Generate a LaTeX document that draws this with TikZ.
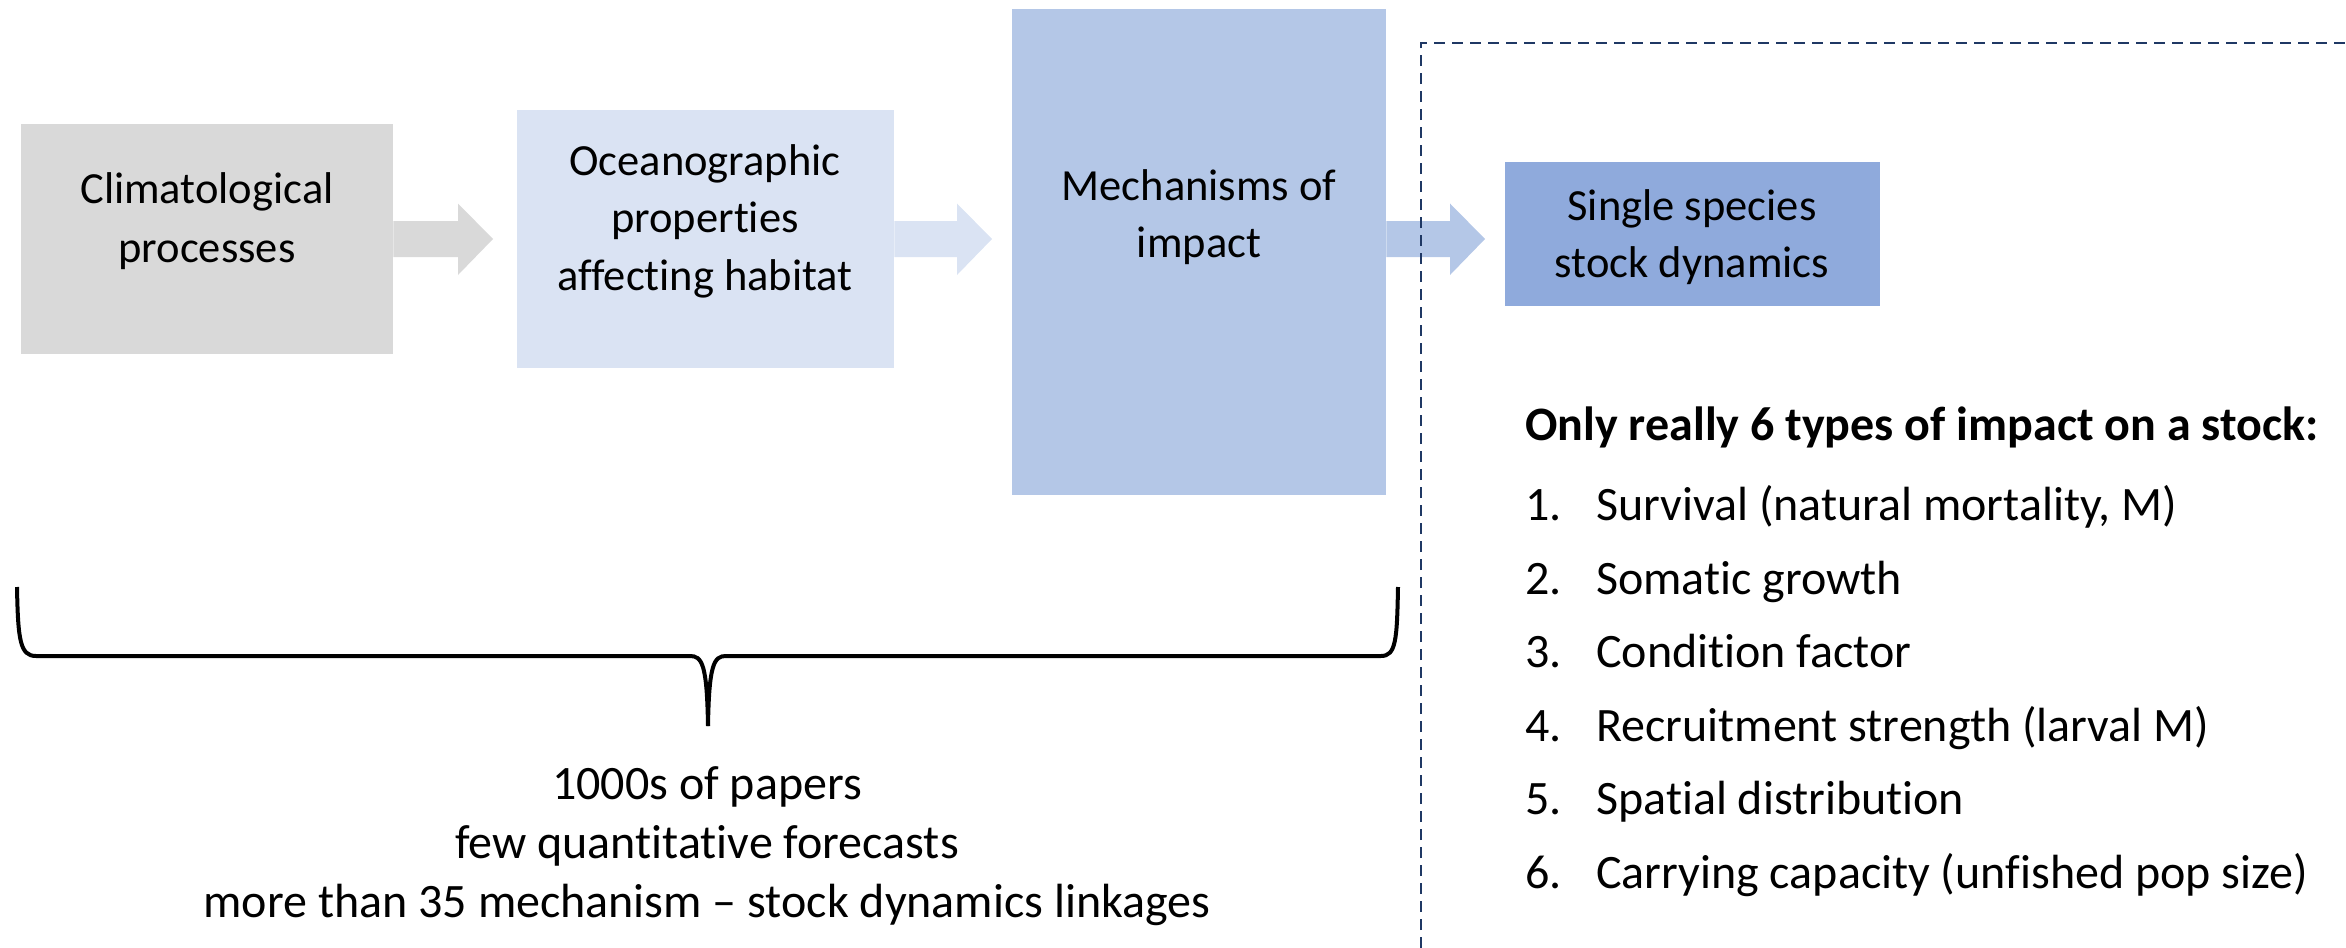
\documentclass[tikz,border=0pt]{standalone}
\usepackage{fontspec}
\setmainfont{Carlito}[Ligatures=TeX, RawFeature={-liga;-clig;-calt;-dlig}]
\usetikzlibrary{calc}
\definecolor{cgray}{HTML}{D9D9D9}
\definecolor{clight}{HTML}{DAE3F3}
\definecolor{cmid}{HTML}{B4C7E7}
\definecolor{cdark}{HTML}{8FAADC}
\definecolor{cnavy}{HTML}{1F3864}
\newcommand{\stk}[2]{\vtop{\baselineskip=#1pt\halign{\hfil##\hfil\cr#2\crcr}}}
\newcommand{\blockarrow}[4]{%
  \fill[#3] let \p1=(#1.east), \p2=(#2.west) in
    (\x1,-221pt) -- (\x2-#4pt-35pt,-221pt) -- (\x2-#4pt-35pt,-203.5pt)
    -- (\x2-#4pt,-239pt) -- (\x2-#4pt-35pt,-275pt) -- (\x2-#4pt-35pt,-257pt)
    -- (\x1,-257pt) -- cycle;}
\begin{document}
\begin{tikzpicture}[x=1pt,y=-1pt,
  box/.style={inner sep=0pt, anchor=north west},
  boxtext/.style={inner sep=0pt, anchor=base, font=\fontsize{44.5}{57.5}\selectfont},
  listtext/.style={inner sep=0pt, anchor=base west, font=\fontsize{48}{58}\selectfont},
  bracestyle/.style={line width=4pt},
  dashline/.style={cnavy, line width=2.5pt, dash pattern=on 11pt off 7pt}]
\useasboundingbox (0,0) rectangle (2346,948);

% boxes
\node[box, fill=cgray,  minimum width=372pt, minimum height=230pt] (clim) at (21,124) {};
\node[box, fill=clight, minimum width=377pt, minimum height=258pt] (ocean) at (517,110) {};
\node[box, fill=cmid,   minimum width=374pt, minimum height=486pt] (mech) at (1012,9) {};
\node[box, fill=cdark,  minimum width=375pt, minimum height=144pt] (single) at (1505,162) {};

% box texts
\node[boxtext] (climt) at (207,203) {\stk{59}{Climatological\cr processes}};
\node[boxtext] (oceant) at (705,175) {\stk{57.5}{Oceanographic\cr properties\cr affecting habitat}};
\node[boxtext] (mecht) at (1199,200) {\stk{57}{Mechanisms of\cr impact}};
\node[boxtext] (singlet) at (1692,220) {\stk{57}{Single species\cr stock dynamics}};

% block arrows
\blockarrow{clim}{ocean}{cgray}{24}
\blockarrow{ocean}{mech}{clight}{20}
\blockarrow{mech}{single}{cmid}{20}

% dashed frame
\coordinate (dbot) at (1421,948);
\coordinate (dcorner) at (1421,43);
\coordinate (dright) at (2346,43);
\draw[dashline] (dbot) -- (dcorner) -- (dright);

% brace
\draw[bracestyle] (17,587) .. controls (18,640) and (20,656) .. (36,656)
  -- (690,656) .. controls (702,656) and (707,664) .. (708,726);
\draw[bracestyle] (708,726) .. controls (709,664) and (714,656) .. (726,656)
  -- (1381,656) .. controls (1396,656) and (1397,640) .. (1398,587);

% bottom text
\node[inner sep=0pt, anchor=base, font=\fontsize{48}{59}\selectfont] (papers) at (707,799)
  {\stk{59}{1000s of papers\cr few quantitative forecasts\cr more than 35 mechanism – stock dynamics linkages}};

% list
\node[listtext, font=\fontsize{48}{58}\selectfont\bfseries] (hdr) at (1525,440) {Only really 6 types of impact on a stock:};
\foreach \i/\t in {1/{Survival (natural mortality, M)},2/{Somatic growth},3/{Condition factor},4/{Recruitment strength (larval M)},5/{Spatial distribution},6/{Carrying capacity (unfished pop size)}}{
  \node[listtext] (num\i) at (1525,{520.5+73.5*(\i-1)}) {\i.};
  \node[listtext] (item\i) at (1596,{520.5+73.5*(\i-1)}) {\t};
}
\end{tikzpicture}
\end{document}
